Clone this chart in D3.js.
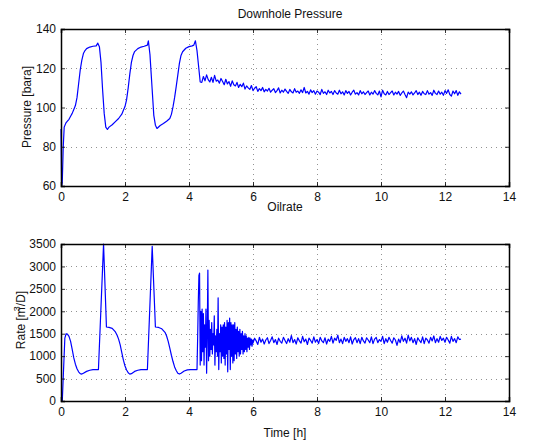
<!DOCTYPE html>
<html>
<head>
<meta charset="utf-8">
<script src="https://cdn.jsdelivr.net/npm/d3@7"></script>
<style>
  body { margin: 0; background: #fff; }
  text { font-family: "Liberation Sans", Arial, sans-serif; fill: #111; }
</style>
</head>
<body>
<div id="chart"></div>
<script>

// x ticks shared by both panels
var timeTicks = [0, 2, 4, 6, 8, 10, 12, 14];
var pressureTicks = [60, 80, 100, 120, 140];
var rateTicks = [0, 500, 1000, 1500, 2000, 2500, 3000, 3500];

// pressure, start-up and three cycles [time h, bara]
var pressureCycles = [
  [0, 89], [0.01, 75], [0.02, 60], [0.04, 62], [0.07, 80], [0.1, 90], [0.15, 92], [0.2, 93],
  [0.25, 94], [0.3, 95.5], [0.35, 97], [0.4, 99], [0.45, 101], [0.5, 105], [0.55, 112],
  [0.6, 119], [0.65, 124], [0.7, 127.5], [0.75, 129], [0.8, 130], [0.9, 130.8], [1.0, 131.2],
  [1.1, 131.4], [1.15, 132.8], [1.2, 131], [1.25, 123], [1.3, 109], [1.35, 97], [1.4, 90],
  [1.45, 88.8], [1.5, 90], [1.6, 91.2], [1.7, 92.8], [1.8, 94.4], [1.9, 96.6], [1.95, 98.6],
  [2.0, 100.5], [2.05, 104], [2.1, 110], [2.15, 117], [2.2, 123], [2.25, 126.5], [2.3, 128.5],
  [2.4, 130], [2.5, 130.8], [2.6, 131.2], [2.7, 131.8], [2.73, 134], [2.78, 127], [2.83, 114],
  [2.9, 96], [2.95, 91], [3.0, 89.3], [3.1, 90.8], [3.2, 91.8], [3.3, 93], [3.4, 94.4],
  [3.45, 96.5], [3.5, 100.3], [3.55, 105], [3.6, 110.6], [3.65, 116.5], [3.7, 122.5],
  [3.75, 126.5], [3.8, 128.4], [3.9, 130.2], [4.0, 131], [4.1, 131.4], [4.15, 131.8],
  [4.2, 134], [4.25, 129], [4.3, 121], [4.35, 113], [4.4, 112.8]
];

// pressure after the cycles, sampled every 0.05 h from 4.45 h
var pressureTailStart = 4.45;
var pressureTailStep = 0.05;
var pressureTail = [
  115.8, 113.6, 116.6, 114.2, 113.0, 115.4, 112.8, 116.4, 113.4, 114.0,
  112.4, 114.8, 113.2, 111.6, 114.4, 112.0, 113.2, 110.8, 113.6, 111.6,
  111.0, 112.8, 110.2, 111.8, 110.6, 112.4, 109.4, 111.0, 110.0, 109.2,
  111.2, 108.6, 109.8, 110.6, 108.2, 109.6, 108.6, 110.2, 108.0, 109.2,
  108.4, 109.8, 107.8, 108.8, 109.6, 107.6, 108.6, 110.0, 107.4, 108.8,
  107.8, 109.4, 108.2, 107.2, 109.2, 108.0, 107.4, 109.6, 107.8, 108.4,
  107.2, 109.0, 107.6, 110.2, 107.4, 108.2, 106.8, 109.0, 107.6, 108.6,
  106.8, 108.4, 107.8, 106.6, 109.2, 107.2, 108.0, 106.6, 108.8, 107.4,
  108.2, 106.6, 108.6, 107.4, 106.8, 108.8, 107.0, 108.0, 106.4, 108.6,
  107.2, 108.2, 106.4, 107.8, 108.8, 106.8, 107.6, 106.4, 108.6, 107.0,
  108.0, 106.6, 107.6, 108.4, 106.4, 107.8, 106.8, 108.6, 107.2, 106.4,
  108.4, 105.4, 108.8, 107.0, 106.4, 108.2, 106.6, 107.6, 108.4, 106.4,
  107.8, 106.8, 108.2, 106.2, 107.4, 108.4, 106.6, 105.0, 107.8, 106.8,
  108.0, 106.4, 107.4, 108.6, 106.6, 107.8, 106.2, 108.2, 107.0, 106.6,
  108.6, 106.8, 107.6, 106.2, 108.8, 107.2, 106.6, 108.4, 106.8, 107.8,
  106.2, 108.6, 107.2, 109.0, 106.6, 105.8, 108.4, 107.0, 108.6, 106.2,
  108.0, 106.8
];

// oil rate, start-up and three cycles [time h, m3/D]
var rateCycles = [
  [0, 0], [0.04, 0], [0.08, 700], [0.12, 1400], [0.16, 1500], [0.2, 1490], [0.25, 1440],
  [0.3, 1330], [0.35, 1150], [0.4, 960], [0.45, 820], [0.5, 720], [0.55, 650], [0.6, 610],
  [0.65, 600], [0.7, 620], [0.8, 660], [0.9, 685], [1.0, 700], [1.1, 700], [1.17, 700],
  [1.33, 3500], [1.42, 1650], [1.5, 1640], [1.6, 1620], [1.7, 1540], [1.75, 1470],
  [1.8, 1380], [1.85, 1250], [1.9, 1080], [1.95, 910], [2.0, 780], [2.05, 690], [2.1, 630],
  [2.15, 600], [2.2, 610], [2.3, 660], [2.4, 685], [2.5, 700], [2.6, 700], [2.7, 700],
  [2.85, 3450], [2.95, 1650], [3.05, 1640], [3.15, 1610], [3.25, 1530], [3.3, 1450],
  [3.35, 1330], [3.4, 1180], [3.45, 1020], [3.5, 880], [3.55, 760], [3.6, 680], [3.65, 620],
  [3.7, 600], [3.75, 620], [3.85, 670], [3.95, 695], [4.05, 700], [4.2, 700], [4.25, 700]
];

// slugging part, every 0.02 h from 4.27 h
var rateSlugStart = 4.27;
var rateSlugStep = 0.02;
var rateSlug = [
  1400, 2200, 2800, 2850, 800, 2000, 900, 2050, 1100, 1950,
  800, 1700, 1200, 2050, 620, 1500, 2920, 900, 1800, 1000,
  1600, 1150, 1750, 1050, 1500, 1250, 1900, 800, 1450, 1100,
  1600, 1000, 2300, 700, 1500, 1100, 1700, 850, 1650, 1000,
  1700, 950, 1750, 800, 1650, 1050, 1800, 650, 1750, 1150,
  1850, 700, 1750, 1000, 1700, 850, 1700, 900, 1750, 1050,
  1600, 950, 1650, 1100, 1550, 1000, 1600, 1050, 1500, 1150,
  1550, 1050, 1450, 1100, 1500, 1150, 1450, 1100, 1400, 1200,
  1420, 1150, 1400, 1250, 1380, 1220, 1360
];

// settled rate, every 0.05 h from 6.0 h
var rateTailStart = 6.0;
var rateTailStep = 0.05;
var rateTail = [
  1290, 1400, 1340, 1260, 1420, 1310, 1380, 1270, 1360, 1410,
  1280, 1350, 1430, 1300, 1370, 1260, 1400, 1330, 1290, 1420,
  1350, 1280, 1390, 1310, 1460, 1300, 1370, 1270, 1410, 1340,
  1290, 1440, 1320, 1380, 1260, 1400, 1350, 1290, 1430, 1310,
  1370, 1280, 1420, 1340, 1300, 1410, 1270, 1380, 1330, 1440,
  1290, 1400, 1350, 1470, 1300, 1380, 1280, 1420, 1330, 1390,
  1300, 1430, 1270, 1370, 1410, 1300, 1390, 1280, 1420, 1340,
  1290, 1410, 1360, 1300, 1430, 1280, 1380, 1420, 1300, 1370,
  1330, 1440, 1280, 1390, 1310, 1420, 1350, 1290, 1410, 1360,
  1240, 1380, 1300, 1450, 1330, 1400, 1290, 1470, 1340, 1420,
  1300, 1390, 1260, 1410, 1350, 1300, 1430, 1280, 1400, 1360,
  1290, 1420, 1340, 1450, 1300, 1390, 1310, 1440, 1350, 1400,
  1310, 1420, 1360, 1290, 1440, 1330, 1390, 1300, 1430, 1370,
  1380
];


var svgWidth = 545;
var svgHeight = 446;

var plotLeft = 61;
var plotRight = 509;
var topPanel = { top: 29, bottom: 186 };
var bottomPanel = { top: 244, bottom: 401 };

var svg = d3.select("#chart")
  .append("svg")
  .attr("width", svgWidth)
  .attr("height", svgHeight);


// turn the sampled arrays into [t, v] points
function sampled(start, step, values) {
  return values.map(function(v, i) { return [start + i * step, v]; });
}

var pressureData = pressureCycles.concat(sampled(pressureTailStart, pressureTailStep, pressureTail));
var rateData = rateCycles
  .concat(sampled(rateSlugStart, rateSlugStep, rateSlug))
  .concat(sampled(rateTailStart, rateTailStep, rateTail));


var xScale = d3.scaleLinear()
  .domain([0, 14])
  .range([plotLeft, plotRight]);


function drawPanel(panel, yDomain, yTicks, data) {

  var yScale = d3.scaleLinear()
    .domain(yDomain)
    .range([panel.bottom, panel.top]);

  var g = svg.append("g");

  // dotted grid
  g.append("g")
    .selectAll("line")
    .data(timeTicks.slice(1, -1))
    .enter()
    .append("line")
    .attr("x1", d => Math.round(xScale(d)) + 0.5)
    .attr("x2", d => Math.round(xScale(d)) + 0.5)
    .attr("y1", panel.top)
    .attr("y2", panel.bottom)
    .attr("stroke", "#777")
    .attr("stroke-width", 0.8)
    .attr("stroke-dasharray", "1,4");

  g.append("g")
    .selectAll("line")
    .data(yTicks.slice(1, -1))
    .enter()
    .append("line")
    .attr("x1", plotLeft)
    .attr("x2", plotRight)
    .attr("y1", d => Math.round(yScale(d)) + 0.5)
    .attr("y2", d => Math.round(yScale(d)) + 0.5)
    .attr("stroke", "#777")
    .attr("stroke-width", 0.8)
    .attr("stroke-dasharray", "1,4");

  // data line
  var line = d3.line()
    .x(d => xScale(d[0]))
    .y(d => yScale(d[1]));

  g.append("path")
    .datum(data)
    .attr("d", line)
    .attr("fill", "none")
    .attr("stroke", "#0000ff")
    .attr("stroke-width", 1.2)
    .attr("stroke-linejoin", "round");

  // axes, ticks inside, on all four sides
  var bottomAxis = d3.axisBottom(xScale).tickValues(timeTicks).tickSize(-4).tickPadding(6);
  var topAxis = d3.axisTop(xScale).tickValues(timeTicks).tickSize(-4).tickFormat("");
  var leftAxis = d3.axisLeft(yScale).tickValues(yTicks).tickSize(-4).tickPadding(5)
    .tickFormat(d3.format("d"));
  var rightAxis = d3.axisRight(yScale).tickValues(yTicks).tickSize(-4).tickFormat("");

  var axes = [
    g.append("g").attr("transform", `translate(0, ${panel.bottom})`).call(bottomAxis),
    g.append("g").attr("transform", `translate(0, ${panel.top})`).call(topAxis),
    g.append("g").attr("transform", `translate(${plotLeft}, 0)`).call(leftAxis),
    g.append("g").attr("transform", `translate(${plotRight}, 0)`).call(rightAxis)
  ];

  axes.forEach(function(a) {
    a.select(".domain").attr("stroke", "#000").attr("stroke-width", 1.5);
    a.selectAll(".tick line").attr("stroke", "#000").attr("stroke-width", 0.8);
    a.selectAll(".tick text")
      .style("font-size", "12px")
      .style("font-family", "'Liberation Sans', Arial, sans-serif")
      .attr("fill", "#111");
  });

  return yScale;
}

drawPanel(topPanel, [60, 140], pressureTicks, pressureData);
drawPanel(bottomPanel, [0, 3500], rateTicks, rateData);


// titles and labels
svg.append("text")
  .attr("x", 290)
  .attr("y", 18)
  .attr("text-anchor", "middle")
  .style("font-size", "12px")
  .text("Downhole Pressure");

svg.append("text")
  .attr("x", 285)
  .attr("y", 211)
  .attr("text-anchor", "middle")
  .style("font-size", "12px")
  .text("Oilrate");

svg.append("text")
  .attr("x", 285)
  .attr("y", 437)
  .attr("text-anchor", "middle")
  .style("font-size", "12px")
  .text("Time [h]");

svg.append("text")
  .attr("transform", "translate(31, 107) rotate(-90)")
  .attr("text-anchor", "middle")
  .style("font-size", "12px")
  .text("Pressure [bara]");

var rateLabel = svg.append("text")
  .attr("transform", "translate(25, 320) rotate(-90)")
  .attr("text-anchor", "middle")
  .style("font-size", "12px");
rateLabel.append("tspan").text("Rate [m");
rateLabel.append("tspan").attr("dy", -5).attr("dx", -4).style("font-size", "9px").text("3");
rateLabel.append("tspan").attr("dy", 5).text("/D]");

</script>
</body>
</html>
